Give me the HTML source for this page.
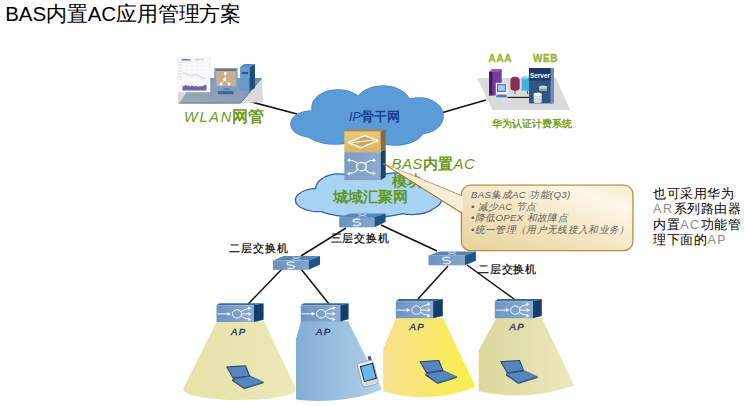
<!DOCTYPE html>
<html><head><meta charset="utf-8">
<style>
html,body{margin:0;padding:0;background:#fff;width:749px;height:406px;overflow:hidden;}
body{font-family:"Liberation Sans",sans-serif;position:relative;}
svg{position:absolute;left:0;top:0;}
svg text{font-family:"Liberation Sans",sans-serif;}
</style></head><body>
<svg width="749" height="406" viewBox="0 0 749 406">
<defs>
  <linearGradient id="gCall" x1="0" y1="1" x2="1" y2="0">
    <stop offset="0" stop-color="#e5d19b"/>
    <stop offset="0.45" stop-color="#f3e5c0"/>
    <stop offset="0.8" stop-color="#fdf7ea"/>
    <stop offset="1" stop-color="#f7ebcb"/>
  </linearGradient>
  <linearGradient id="gY1" x1="0" y1="0" x2="1" y2="0">
    <stop offset="0" stop-color="#e7e2a6"/>
    <stop offset="1" stop-color="#ebe8b9"/>
  </linearGradient>
  <linearGradient id="gB" x1="0" y1="0" x2="1" y2="0">
    <stop offset="0" stop-color="#84aed6"/>
    <stop offset="1" stop-color="#b3d1e9"/>
  </linearGradient>
  <linearGradient id="gY3" x1="0" y1="0" x2="1" y2="0">
    <stop offset="0" stop-color="#f6df8e"/>
    <stop offset="1" stop-color="#f8f04a"/>
  </linearGradient>
  <linearGradient id="gY4" x1="0" y1="0" x2="1" y2="0">
    <stop offset="0" stop-color="#dcd79c"/>
    <stop offset="1" stop-color="#ebe8bd"/>
  </linearGradient>
  <linearGradient id="gPlat" x1="0" y1="1" x2="1" y2="0">
    <stop offset="0" stop-color="#9aabbd"/>
    <stop offset="1" stop-color="#7a90a8"/>
  </linearGradient>
  <linearGradient id="gBasY" x1="0" y1="0" x2="0" y2="1">
    <stop offset="0" stop-color="#ecc974"/>
    <stop offset="1" stop-color="#dcb45e"/>
  </linearGradient>
  <linearGradient id="gBasB" x1="0" y1="0" x2="1" y2="0">
    <stop offset="0" stop-color="#7c9dc4"/>
    <stop offset="1" stop-color="#8eaace"/>
  </linearGradient>
  <linearGradient id="gAP" x1="0" y1="0" x2="1" y2="0">
    <stop offset="0" stop-color="#6c94c2"/>
    <stop offset="1" stop-color="#8eadd0"/>
  </linearGradient>
  <linearGradient id="gSW" x1="0" y1="0" x2="1" y2="0">
    <stop offset="0" stop-color="#6a93c0"/>
    <stop offset="1" stop-color="#82a6cc"/>
  </linearGradient>
</defs>

<g stroke="#111" stroke-width="1.5" fill="none">
  <line x1="244" y1="100" x2="297" y2="114"/>
  <line x1="441" y1="113" x2="486" y2="100"/>
  <line x1="346" y1="228" x2="301" y2="256"/>
  <line x1="381" y1="225" x2="437" y2="251"/>
  <line x1="282" y1="269" x2="248.2" y2="304"/>
  <line x1="301" y1="269" x2="329" y2="304"/>
  <line x1="448" y1="266" x2="418" y2="299"/>
  <line x1="467" y1="265" x2="514" y2="299"/>
</g>
<path d="M217 321 L264 321 L296 389 A56 11 0 0 1 183 389 Z" fill="url(#gY1)"/>
<path d="M301 321 L348 321 L381.8 389.2 C360 400 320 403 296 399.6 L296 339 Z" fill="url(#gB)"/>
<path d="M396 318 L443 318 L475.7 387 Q430 405 383.2 391.3 L383.2 348.7 Z" fill="url(#gY3)"/>
<path d="M496.3 318 L542 318 L574.1 385.4 Q526 402 478.7 391.3 L478.7 350.2 Z" fill="url(#gY4)"/>
<g fill="#4286c8" stroke="#4286c8" stroke-width="1.6"><ellipse cx="312" cy="124" rx="21" ry="13"/><ellipse cx="338" cy="108" rx="26" ry="18"/><ellipse cx="383" cy="106" rx="28" ry="20"/><ellipse cx="419" cy="116" rx="24" ry="18"/><ellipse cx="335" cy="130" rx="30" ry="14"/><ellipse cx="395" cy="130" rx="28" ry="15"/><ellipse cx="365" cy="120" rx="40" ry="20"/></g><g fill="#5b9cd8"><ellipse cx="312" cy="124" rx="21" ry="13"/><ellipse cx="338" cy="108" rx="26" ry="18"/><ellipse cx="383" cy="106" rx="28" ry="20"/><ellipse cx="419" cy="116" rx="24" ry="18"/><ellipse cx="335" cy="130" rx="30" ry="14"/><ellipse cx="395" cy="130" rx="28" ry="15"/><ellipse cx="365" cy="120" rx="40" ry="20"/></g>
<g fill="#2f5fa8" stroke="#2f5fa8" stroke-width="2.4"><ellipse cx="318" cy="200" rx="22" ry="11"/><ellipse cx="338" cy="190" rx="22" ry="15.5"/><ellipse cx="365" cy="192" rx="25" ry="17"/><ellipse cx="395" cy="189" rx="24" ry="15.5"/><ellipse cx="423" cy="199" rx="18" ry="11"/><ellipse cx="365" cy="205" rx="50" ry="12"/><ellipse cx="412" cy="205" rx="22" ry="9"/></g><g fill="#a9d3f3"><ellipse cx="318" cy="200" rx="22" ry="11"/><ellipse cx="338" cy="190" rx="22" ry="15.5"/><ellipse cx="365" cy="192" rx="25" ry="17"/><ellipse cx="395" cy="189" rx="24" ry="15.5"/><ellipse cx="423" cy="199" rx="18" ry="11"/><ellipse cx="365" cy="205" rx="50" ry="12"/><ellipse cx="412" cy="205" rx="22" ry="9"/></g>
<g id="nms">
  <polygon points="178,80 262,78 263,102 241,103.5 178,103.5" fill="#d9dadc"/>
  <polygon points="179,103.5 240,103.5 261.5,78 196,78" fill="url(#gPlat)"/>
  <line x1="240.5" y1="103" x2="261.5" y2="78.3" stroke="#5d6f86" stroke-width="1"/>
  <line x1="179" y1="103.1" x2="240.5" y2="103.1" stroke="#6a7c92" stroke-width="0.8"/>
  <rect x="178" y="58" width="32" height="34" fill="#fbfbfd" stroke="#e2e4ec" stroke-width="0.6"/>
  <rect x="181.5" y="59" width="9" height="1.6" fill="#5868a0" opacity="0.8"/>
  <rect x="195" y="59.3" width="9" height="1" fill="#a0a8c8" opacity="0.7"/>
  <g stroke="#e6e8f0" stroke-width="0.5">
    <line x1="183" y1="62" x2="206.5" y2="62"/><line x1="183" y1="66" x2="206.5" y2="66"/>
    <line x1="183" y1="70" x2="206.5" y2="70"/><line x1="183" y1="74" x2="206.5" y2="74"/>
    <line x1="183" y1="78" x2="206.5" y2="78"/><line x1="183" y1="82" x2="206.5" y2="82"/>
    <line x1="187" y1="61" x2="187" y2="82"/><line x1="192" y1="61" x2="192" y2="82"/>
    <line x1="197" y1="61" x2="197" y2="82"/><line x1="202" y1="61" x2="202" y2="82"/>
  </g>
  <g fill="#e8b8c8" opacity="0.8">
    <rect x="179" y="61.5" width="3" height="0.9"/><rect x="179" y="64.5" width="3" height="0.9"/>
    <rect x="179" y="67.5" width="3" height="0.9"/><rect x="179" y="70.5" width="3" height="0.9"/>
    <rect x="179" y="73.5" width="3" height="0.9"/><rect x="179" y="76.5" width="3" height="0.9"/>
    <rect x="179" y="79.5" width="3" height="0.9"/>
  </g>
  <polyline points="183,73 186,73.5 189,75.5 192,76 195,74.5 198,75.5 201,77 204,78.5 206,79" fill="none" stroke="#b8b4cc" stroke-width="0.7"/>
  <path d="M182.5 90.5 L182.5 85 L184 86.5 L185.5 84.6 L187 86.3 L188.5 85.2 L190 86.4 L192 85.5 L194 86.6 L196 85.8 L198 86.8 L200 86 L202 86.5 L204 85.4 L205.5 84.5 L206.5 85.2 L206.5 90.5 Z" fill="#6f63a6"/>
  <rect x="214.3" y="68" width="23.4" height="20.3" fill="#829fc6"/>
  <rect x="216.2" y="69.6" width="19.7" height="16.4" fill="#c9ae8c"/>
  <rect x="216.2" y="69.6" width="19.7" height="1" fill="#2b3f5e"/>
  <g stroke="#f4eee6" stroke-width="0.7"><line x1="225.4" y1="73.5" x2="224.8" y2="79.6"/><line x1="224.8" y1="79.6" x2="221.1" y2="84"/><line x1="224.8" y1="79.6" x2="229.1" y2="84"/></g>
  <circle cx="225.4" cy="73.5" r="1.4" fill="#fff"/><circle cx="224.8" cy="79.6" r="1.4" fill="#fff"/>
  <circle cx="221.1" cy="84" r="1.4" fill="#fff"/><circle cx="229.1" cy="84" r="1.4" fill="#fff"/>
  <rect x="223" y="88.3" width="6" height="2" fill="#5a7fb0"/>
  <rect x="218" y="90" width="15.4" height="4.2" fill="#3a67a4"/>
  <rect x="218" y="90" width="15.4" height="1.2" fill="#6a94c8"/>
  <polygon points="240,67 244,64 255,64 249,67" fill="#5b8cc0"/>
  <rect x="240" y="67" width="9.5" height="24" fill="#6a9acb"/>
  <polygon points="249.5,67 255,64 255,88 249.5,91" fill="#1e4f7d"/>
  <rect x="242" y="72" width="6" height="2" fill="#2c5a88"/>
</g>
<g id="auth">
  <polygon points="477,78 556,78 570,110 492.4,110" fill="#dadadc"/>
  <polygon points="489,72 492,69.3 501.7,69.3 501.7,93 497,95.4 489,95.4" fill="#7a3a9c"/>
  <rect x="489" y="72" width="3.6" height="23.4" fill="#4e1670"/>
  <polygon points="489,72 492,69.3 501.7,69.3 498,72" fill="#9a5cb8"/>
  <rect x="495.8" y="82.8" width="11.6" height="15.6" fill="#f4f6fa"/>
  <rect x="497" y="84" width="9" height="8" fill="#4a7fbf"/>
  <rect x="498.2" y="85.2" width="6.6" height="5.6" fill="#a6cdee"/>
  <polygon points="496.5,94.5 506.5,94.5 507.2,97.6 496,97.6" fill="#4a7fbf"/>
  <path d="M510.4 80.5 Q510.4 76.7 515 76.7 Q519.7 76.7 519.7 80.5 L519.7 88 Q519.7 90.7 515 90.7 Q510.4 90.7 510.4 88 Z" fill="#8a2f58"/>
  <line x1="515" y1="90.5" x2="515" y2="94" stroke="#333" stroke-width="0.9"/>
  <rect x="521.7" y="77.5" width="7.3" height="13" fill="#3fb2de"/>
  <ellipse cx="525.3" cy="77.5" rx="3.65" ry="1.6" fill="#8fd4f0"/>
  <line x1="527" y1="90.5" x2="528" y2="94" stroke="#333" stroke-width="0.9"/>
  <line x1="507.5" y1="97.4" x2="530" y2="97.4" stroke="#111" stroke-width="1.1"/>
  <rect x="529" y="68" width="24.8" height="35.4" fill="#2f5585"/>
  <rect x="550.5" y="68" width="3.3" height="35.4" fill="#6f8fba"/>
  <rect x="529" y="68" width="21.5" height="12.5" fill="#1f3a62"/>
  <text x="540" y="78" font-size="6.4" font-weight="bold" fill="#fff" text-anchor="middle">Server</text>
  <ellipse cx="543" cy="87.5" rx="4" ry="1.6" fill="#a8b0bc"/>
  <rect x="539" y="87.5" width="8" height="3.5" fill="#98a2b0"/>
  <ellipse cx="543" cy="87.2" rx="4" ry="1.6" fill="#c8d0da"/>
  <rect x="533.7" y="94" width="8" height="7.5" fill="#e4e6ea"/>
  <ellipse cx="537.7" cy="101.5" rx="4" ry="1.5" fill="#d8dce2"/>
  <ellipse cx="537.7" cy="94" rx="4" ry="1.6" fill="#ffffff"/>
  <line x1="533.7" y1="97" x2="541.7" y2="97" stroke="#b0b6c0" stroke-width="0.5"/>
  <line x1="533.7" y1="99.3" x2="541.7" y2="99.3" stroke="#b0b6c0" stroke-width="0.5"/>
</g>
<g id="bas">
  <polygon points="344.3,131.4 347.5,129.2 385.7,129.2 380.7,131.4" fill="#a88650"/>
  <rect x="344.3" y="131.4" width="36.4" height="20.7" fill="url(#gBasY)"/>
  <polygon points="380.7,131.4 385.7,129.2 385.7,149.5 380.7,152.1" fill="#8b6a40"/>
  <rect x="344.3" y="152.1" width="36.4" height="28" fill="url(#gBasB)"/>
  <polygon points="380.7,152.1 385.7,149.5 385.7,177 380.7,180.1" fill="#1b4370"/>
  <polygon points="348,142.4 365,135.6 378,140.6 361,147.6" fill="#caa658" stroke="#fff" stroke-width="1.3" stroke-linejoin="round"/>
  <line x1="351.5" y1="142.6" x2="374.5" y2="140" stroke="#fff" stroke-width="1.1"/>
  <ellipse cx="361.4" cy="166.6" rx="4.8" ry="4.3" fill="none" stroke="#fff" stroke-width="1.3"/>
  <g fill="none" stroke="#fff" stroke-width="1.1">
    <path d="M357.6 163.6 Q354.5 160.3 349 160.3"/>
    <path d="M365.2 163.6 Q368.3 160.3 374 160.3"/>
    <path d="M357.6 169.6 Q354.5 173.4 349 173.4"/>
    <path d="M365.2 169.6 Q368.3 173.4 374 173.4"/>
  </g>
  <g fill="#fff">
    <polygon points="350,158.3 347,160.3 350,162.3"/>
    <polygon points="373,158.3 376,160.3 373,162.3"/>
    <polygon points="350,171.4 347,173.4 350,175.4"/>
    <polygon points="373,171.4 376,173.4 373,175.4"/>
  </g>
</g>
<g>
  <polygon points="339.2,217.2 350.2,213.6 385.6,213.6 374.4,217.2" fill="#5a86b4"/>
  <rect x="339.2" y="217.2" width="35.2" height="10.1" fill="url(#gSW)"/>
  <polygon points="374.4,217.2 385.6,213.6 385.6,222 374.4,227.3" fill="#1a5488"/>
  <g stroke="#eef4fb" stroke-width="1.3" fill="none" opacity="0.9">
    <path d="M360.3 219.7 Q356.8 218.1 353.3 220.1 Q351.8 221.8 356.8 222.2 Q361.8 222.8 360.3 224.7 Q356.8 226.4 353.3 224.8"/>
  </g>
  <g stroke="#dfe9f5" stroke-width="0.9" opacity="0.8">
    <line x1="358.3" y1="214.4" x2="366.3" y2="216.4"/>
    <line x1="366.3" y1="214.4" x2="358.3" y2="216.4"/>
  </g>
</g>
<g>
  <polygon points="272.9,260.5 283.9,256 320,256 308.7,260.5" fill="#5a86b4"/>
  <rect x="272.9" y="260.5" width="35.8" height="9.3" fill="url(#gSW)"/>
  <polygon points="308.7,260.5 320,256 320,264.6 308.7,269.8" fill="#1a5488"/>
  <g stroke="#eef4fb" stroke-width="1.3" fill="none" opacity="0.9">
    <path d="M294.3 262.5 Q290.8 260.9 287.3 262.9 Q285.8 264.8 290.8 265.1 Q295.8 265.8 294.3 267.5 Q290.8 269.3 287.3 267.8"/>
  </g>
  <g stroke="#dfe9f5" stroke-width="0.9" opacity="0.8">
    <line x1="292.3" y1="256.8" x2="300.3" y2="259.7"/>
    <line x1="300.3" y1="256.8" x2="292.3" y2="259.7"/>
  </g>
</g>
<g>
  <polygon points="428.5,255.4 439.5,251.4 475.9,251.4 464.8,255.4" fill="#5a86b4"/>
  <rect x="428.5" y="255.4" width="36.3" height="9.9" fill="url(#gSW)"/>
  <polygon points="464.8,255.4 475.9,251.4 475.9,260.8 464.8,265.3" fill="#1a5488"/>
  <g stroke="#eef4fb" stroke-width="1.3" fill="none" opacity="0.9">
    <path d="M450.1 257.8 Q446.6 256.2 443.1 258.2 Q441.6 260 446.6 260.4 Q451.6 261 450.1 262.8 Q446.6 264.6 443.1 263"/>
  </g>
  <g stroke="#dfe9f5" stroke-width="0.9" opacity="0.8">
    <line x1="448.1" y1="252.2" x2="456.1" y2="254.6"/>
    <line x1="456.1" y1="252.2" x2="448.1" y2="254.6"/>
  </g>
</g>
<g>
  <polygon points="216.5,305.3 219.5,303.2 263.6,303.2 253.9,305.3" fill="#3f6a9a"/>
  <rect x="216.5" y="305.3" width="37.4" height="16.7" fill="url(#gAP)"/>
  <polygon points="253.9,305.3 263.6,303.2 263.6,319.7 253.9,322" fill="#143f6d"/>
  <g stroke="#f4f8fc" stroke-width="1" fill="none">
   <line x1="217.3" y1="313.9" x2="228.5" y2="313.9"/>
   <ellipse cx="237" cy="313.9" rx="4.6" ry="4.2"/>
   <path d="M241 311.9 Q243.5 309.4 249 308.3"/>
   <line x1="241.7" y1="313.9" x2="249" y2="313.9"/>
   <path d="M241 315.9 Q243.5 318.4 249 319.3"/>
  </g>
  <g fill="#f4f8fc">
   <polygon points="227.5,311.9 231,313.9 227.5,315.9"/>
   <polygon points="248.5,311.9 251.5,313.9 248.5,315.9"/>
   <polygon points="248,306.4 251.5,307.9 248.5,310.1"/>
   <polygon points="248,321.2 251.5,319.8 248.5,317.6"/>
  </g>
</g>
<g>
  <polygon points="300.7,305.3 303.7,303.2 348.6,303.2 340.3,305.3" fill="#3f6a9a"/>
  <rect x="300.7" y="305.3" width="39.6" height="16.3" fill="url(#gAP)"/>
  <polygon points="340.3,305.3 348.6,303.2 348.6,319.3 340.3,321.6" fill="#143f6d"/>
  <g stroke="#f4f8fc" stroke-width="1" fill="none">
   <line x1="301.5" y1="313.8" x2="312.7" y2="313.8"/>
   <ellipse cx="321.2" cy="313.8" rx="4.6" ry="4.2"/>
   <path d="M325.2 311.8 Q327.7 309.3 333.2 308.2"/>
   <line x1="325.9" y1="313.8" x2="333.2" y2="313.8"/>
   <path d="M325.2 315.8 Q327.7 318.3 333.2 319.2"/>
  </g>
  <g fill="#f4f8fc">
   <polygon points="311.7,311.8 315.2,313.8 311.7,315.8"/>
   <polygon points="332.7,311.8 335.7,313.8 332.7,315.8"/>
   <polygon points="332.2,306.3 335.7,307.8 332.7,310"/>
   <polygon points="332.2,321.1 335.7,319.6 332.7,317.4"/>
  </g>
</g>
<g>
  <polygon points="395.8,301.3 398.8,299 442.8,299 433.1,301.3" fill="#3f6a9a"/>
  <rect x="395.8" y="301.3" width="37.3" height="16.9" fill="url(#gAP)"/>
  <polygon points="433.1,301.3 442.8,299 442.8,315.9 433.1,318.2" fill="#143f6d"/>
  <g stroke="#f4f8fc" stroke-width="1" fill="none">
   <line x1="396.6" y1="310.1" x2="407.8" y2="310.1"/>
   <ellipse cx="416.3" cy="310.1" rx="4.6" ry="4.2"/>
   <path d="M420.3 308.1 Q422.8 305.6 428.3 304.4"/>
   <line x1="421" y1="310.1" x2="428.3" y2="310.1"/>
   <path d="M420.3 312.1 Q422.8 314.6 428.3 315.4"/>
  </g>
  <g fill="#f4f8fc">
   <polygon points="406.8,308.1 410.3,310.1 406.8,312.1"/>
   <polygon points="427.8,308.1 430.8,310.1 427.8,312.1"/>
   <polygon points="427.3,302.6 430.8,304.1 427.8,306.2"/>
   <polygon points="427.3,317.4 430.8,315.9 427.8,313.7"/>
  </g>
</g>
<g>
  <polygon points="494.8,301.3 497.8,299 541.8,299 533,301.3" fill="#3f6a9a"/>
  <rect x="494.8" y="301.3" width="38.2" height="16.9" fill="url(#gAP)"/>
  <polygon points="533,301.3 541.8,299 541.8,315.9 533,318.2" fill="#143f6d"/>
  <g stroke="#f4f8fc" stroke-width="1" fill="none">
   <line x1="495.6" y1="310.1" x2="506.8" y2="310.1"/>
   <ellipse cx="515.3" cy="310.1" rx="4.6" ry="4.2"/>
   <path d="M519.3 308.1 Q521.8 305.6 527.3 304.4"/>
   <line x1="520" y1="310.1" x2="527.3" y2="310.1"/>
   <path d="M519.3 312.1 Q521.8 314.6 527.3 315.4"/>
  </g>
  <g fill="#f4f8fc">
   <polygon points="505.8,308.1 509.3,310.1 505.8,312.1"/>
   <polygon points="526.8,308.1 529.8,310.1 526.8,312.1"/>
   <polygon points="526.3,302.6 529.8,304.1 526.8,306.2"/>
   <polygon points="526.3,317.4 529.8,315.9 526.8,313.7"/>
  </g>
</g>
<g transform="translate(226,365.2)">
  <polygon points="0,1.3 19.9,0 24.2,10.8 6.9,13.3" fill="#1f3b66"/>
  <polygon points="1.4,2.2 19.2,1 23,10.2 7.4,12.4" fill="#5784bd"/>
  <polygon points="6.2,14.2 24.2,10.8 37.5,16.8 18.1,22.8" fill="#5686c0" stroke="#2a4a78" stroke-width="0.6"/>
  <polygon points="6.2,14.2 18.1,22.8 18.4,24 6,15.6" fill="#23426b"/>
  <polygon points="18.1,22.8 37.5,16.8 37.5,18 18.4,24" fill="#2f5586"/>
  <line x1="7" y1="13.6" x2="24" y2="11" stroke="#2c4f80" stroke-width="0.8"/>
</g>
<g transform="translate(419.3,359.9)">
  <polygon points="0,1.3 19.9,0 24.2,10.8 6.9,13.3" fill="#1f3b66"/>
  <polygon points="1.4,2.2 19.2,1 23,10.2 7.4,12.4" fill="#5784bd"/>
  <polygon points="6.2,14.2 24.2,10.8 37.5,16.8 18.1,22.8" fill="#5686c0" stroke="#2a4a78" stroke-width="0.6"/>
  <polygon points="6.2,14.2 18.1,22.8 18.4,24 6,15.6" fill="#23426b"/>
  <polygon points="18.1,22.8 37.5,16.8 37.5,18 18.4,24" fill="#2f5586"/>
  <line x1="7" y1="13.6" x2="24" y2="11" stroke="#2c4f80" stroke-width="0.8"/>
</g>
<g transform="translate(500,359.9)">
  <polygon points="0,1.3 19.9,0 24.2,10.8 6.9,13.3" fill="#1f3b66"/>
  <polygon points="1.4,2.2 19.2,1 23,10.2 7.4,12.4" fill="#5784bd"/>
  <polygon points="6.2,14.2 24.2,10.8 37.5,16.8 18.1,22.8" fill="#5686c0" stroke="#2a4a78" stroke-width="0.6"/>
  <polygon points="6.2,14.2 18.1,22.8 18.4,24 6,15.6" fill="#23426b"/>
  <polygon points="18.1,22.8 37.5,16.8 37.5,18 18.4,24" fill="#2f5586"/>
  <line x1="7" y1="13.6" x2="24" y2="11" stroke="#2c4f80" stroke-width="0.8"/>
</g>
<g>
  <g transform="translate(367.75,373.55) rotate(-15)">
    <rect x="4.3" y="-16.6" width="3" height="4.8" fill="#4a5460"/>
    <rect x="-8.1" y="-12.3" width="16.2" height="24.6" rx="3.6" fill="#eef0f3" stroke="#8f98a4" stroke-width="0.8"/>
    <rect x="-7" y="7.8" width="14" height="3.6" rx="1.6" fill="#d4d8de"/>
    <rect x="-5.3" y="-8.6" width="12.4" height="15.4" fill="#6cb8ee" stroke="#1a2330" stroke-width="1"/>
  </g>
</g>
<text x="5.3" y="21" font-size="20.5" fill="#000" font-weight="normal" font-style="normal" text-anchor="start" letter-spacing="-0.12">BAS内置AC应用管理方案</text>
<text x="184" y="121.8" font-size="14.5" fill="#6b9b1e" font-weight="normal" font-style="italic" text-anchor="start" ><tspan letter-spacing="1.8">WLAN</tspan><tspan font-weight="bold" font-style="normal" font-size="15.5" dx="-1">网管</tspan></text>
<text x="349" y="120.5" font-size="12.5" fill="#1a3c8e" font-weight="bold" font-style="normal" text-anchor="start" ><tspan font-style="italic" font-weight="normal">IP</tspan>骨干网</text>
<text x="391.5" y="168.7" font-size="15" fill="#6a9a20" font-weight="normal" font-style="italic" text-anchor="start" letter-spacing="0.4">BAS<tspan font-weight="bold" font-style="normal">内置</tspan>AC</text>
<text x="391.5" y="186" font-size="15" fill="#5f9a1e" font-weight="bold" font-style="normal" text-anchor="start" >模块</text>
<text x="332.5" y="201.8" font-size="14.5" fill="#5e9a1e" font-weight="bold" font-style="normal" text-anchor="start" >城域汇聚网</text>
<text x="488.6" y="61.6" font-size="10" fill="#98b636" font-weight="bold" font-style="normal" text-anchor="start" letter-spacing="0.6" stroke="#98b636" stroke-width="0.35">AAA</text>
<text x="533" y="61.6" font-size="10" fill="#98b636" font-weight="bold" font-style="normal" text-anchor="start" letter-spacing="0.6" stroke="#98b636" stroke-width="0.35">WEB</text>
<text x="491.5" y="126.7" font-size="9.8" fill="#6e9e22" font-weight="bold" font-style="normal" text-anchor="start" >华为认证计费系统</text>
<text x="330.5" y="242.2" font-size="11.1" fill="#000" font-weight="normal" font-style="normal" text-anchor="start" letter-spacing="0.8" stroke="#000" stroke-width="0.2">三层交换机</text>
<text x="229" y="252.4" font-size="11.1" fill="#000" font-weight="normal" font-style="normal" text-anchor="start" letter-spacing="0.9" stroke="#000" stroke-width="0.2">二层交换机</text>
<text x="477.8" y="273.3" font-size="11.1" fill="#000" font-weight="normal" font-style="normal" text-anchor="start" letter-spacing="0.9" stroke="#000" stroke-width="0.2">二层交换机</text>
<text x="231" y="335" font-size="9.6" fill="#142c64" font-weight="normal" font-style="italic" text-anchor="start" letter-spacing="1.3" stroke="#142c64" stroke-width="0.3">AP</text>
<text x="316" y="335" font-size="9.6" fill="#142c64" font-weight="normal" font-style="italic" text-anchor="start" letter-spacing="1.3" stroke="#142c64" stroke-width="0.3">AP</text>
<text x="409.6" y="330" font-size="9.6" fill="#142c64" font-weight="normal" font-style="italic" text-anchor="start" letter-spacing="1.3" stroke="#142c64" stroke-width="0.3">AP</text>
<text x="509.5" y="330" font-size="9.6" fill="#142c64" font-weight="normal" font-style="italic" text-anchor="start" letter-spacing="1.3" stroke="#142c64" stroke-width="0.3">AP</text>
<path d="M383.7 163.7 L462 196 L462 213.3 Z" fill="#fbeed8" stroke="#a5782c" stroke-width="1.1" stroke-linejoin="round"/>
<rect x="461.4" y="185.2" width="171.5" height="65.5" rx="9" ry="9" fill="url(#gCall)" stroke="#b58f45" stroke-width="1.3"/>
<path d="M463 196.8 L463 212.5 L386 164.6 Z" fill="#fbeed8"/>
<text x="471" y="197.7" font-size="9.7" fill="#5c5c5c" font-weight="normal" font-style="italic" text-anchor="start" letter-spacing="0.33">BAS集成AC 功能(Q3)</text>
<text x="471" y="209.5" font-size="9.7" fill="#5c5c5c" font-weight="normal" font-style="italic" text-anchor="start" letter-spacing="0.33">• 减少AC 节点</text>
<text x="471" y="221.3" font-size="9.7" fill="#5c5c5c" font-weight="normal" font-style="italic" text-anchor="start" letter-spacing="0.33">•降低OPEX 和故障点</text>
<text x="471" y="233.1" font-size="9.7" fill="#5c5c5c" font-weight="normal" font-style="italic" text-anchor="start" letter-spacing="0.33">•统一管理（用户无线接入和业务）</text>
<text x="653" y="198" font-size="12.6" fill="#000" font-weight="normal" font-style="normal" text-anchor="start" letter-spacing="0.6">也可采用华为</text>
<text x="653" y="213.3" font-size="12.6" fill="#000" font-weight="normal" font-style="normal" text-anchor="start" letter-spacing="0.6"><tspan fill="#8c8c8c" letter-spacing="1.5">AR</tspan>系列路由器</text>
<text x="653" y="228.6" font-size="12.6" fill="#000" font-weight="normal" font-style="normal" text-anchor="start" letter-spacing="0.6">内置<tspan fill="#8c8c8c" letter-spacing="1.5">AC</tspan>功能管</text>
<text x="653" y="243.9" font-size="12.6" fill="#000" font-weight="normal" font-style="normal" text-anchor="start" letter-spacing="0.6">理下面的<tspan fill="#8c8c8c" letter-spacing="1.5">AP</tspan></text>
</svg>
</body></html>
